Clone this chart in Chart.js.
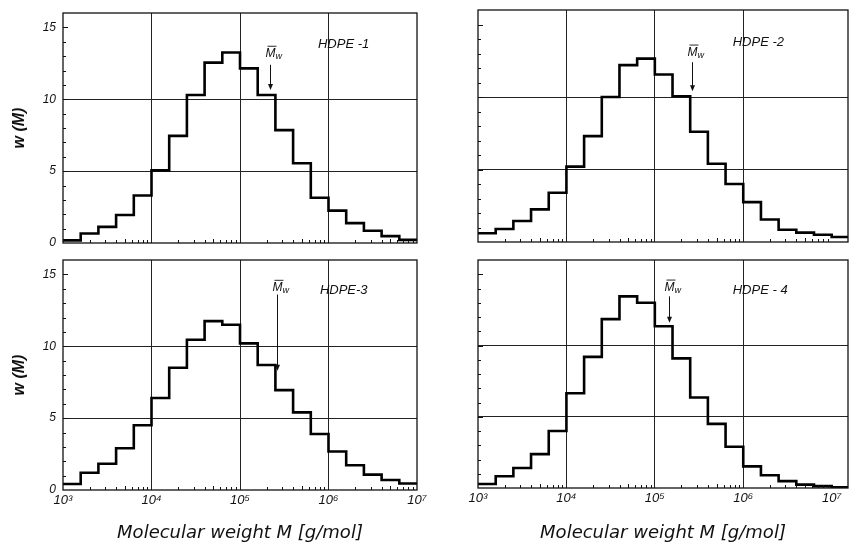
<!DOCTYPE html>
<html>
<head>
<meta charset="utf-8">
<script src="https://cdn.jsdelivr.net/npm/chart.js@4.4.1/dist/chart.umd.min.js"></script>
<style>
  html, body { margin: 0; padding: 0; background: #fff; }
  body { width: 851px; height: 552px; position: relative; overflow: hidden; }
  canvas { position: absolute; }
</style>
</head>
<body>
<canvas id="p1" width="440" height="250" style="left:0;top:0;width:440px;height:250px"></canvas>
<canvas id="p2" width="431" height="250" style="left:420px;top:0;width:431px;height:250px"></canvas>
<canvas id="p3" width="440" height="302" style="left:0;top:250px;width:440px;height:302px"></canvas>
<canvas id="p4" width="431" height="302" style="left:420px;top:250px;width:431px;height:302px"></canvas>
<script>
// bin edges of the histograms, M in g/mol (5 bins per decade)
const binEdges = [1000, 1585, 2512, 3981, 6310, 10000, 15849, 25119, 39811, 63096,
  100000, 158489, 251189, 398107, 630957, 1000000, 1584893, 2511886, 3981072, 6309573,
  10000000, 15848932];

// w(M) per bin
const wHDPE1 = [0.18, 0.66, 1.12, 1.95, 3.3, 5.05, 7.45, 10.3, 12.55, 13.25, 12.15, 10.3, 7.85, 5.55, 3.15, 2.25, 1.38, 0.85, 0.48, 0.22];
const wHDPE2 = [0.6, 0.9, 1.45, 2.25, 3.4, 5.2, 7.3, 10.0, 12.2, 12.65, 11.55, 10.05, 7.6, 5.4, 4.0, 2.75, 1.55, 0.85, 0.65, 0.5, 0.35];
const wHDPE3 = [0.42, 1.2, 1.83, 2.9, 4.5, 6.4, 8.5, 10.45, 11.75, 11.5, 10.2, 8.7, 6.95, 5.4, 3.9, 2.68, 1.72, 1.07, 0.7, 0.45];
const wHDPE4 = [0.28, 0.82, 1.4, 2.38, 4.0, 6.65, 9.2, 11.85, 13.45, 13.0, 11.35, 9.1, 6.35, 4.5, 2.9, 1.52, 0.9, 0.48, 0.24, 0.13, 0.05];

// weight-average molecular weights marked with arrows
const mwHDPE = [220000, 260000, 260000, 145000];

// axis ticks
const xTicks = [1e3, 1e4, 1e5, 1e6, 1e7];
const xGrid = [1e4, 1e5, 1e6];
const decades = [1e3, 1e4, 1e5, 1e6, 1e7];
const minorSteps = [2, 3, 4, 5, 6, 7, 8, 9];
const yTicks = [0, 5, 10, 15];
const yGrid = [5, 10];

const ink = '#111';
const sup = { 3: '\u00b3', 4: '\u2074', 5: '\u2075', 6: '\u2076', 7: '\u2077' };

const decor = {
  id: 'decor',
  afterDatasetsDraw(chart, args, o) {
    const { ctx, chartArea: a, scales: { x, y } } = chart;
    ctx.save();
    ctx.strokeStyle = ink;
    ctx.fillStyle = ink;

    // minor ticks, pointing inwards
    ctx.lineWidth = 1;
    ctx.beginPath();
    decades.forEach(d => minorSteps.forEach(m => {
      const v = d * m;
      if (v >= x.max) return;
      const px = Math.round(x.getPixelForValue(v)) + 0.5;
      ctx.moveTo(px, a.bottom);
      ctx.lineTo(px, a.bottom - (m === 5 ? 4 : 3));
    }));
    for (let v = 1; v < 16; v++) {
      const py = Math.round(y.getPixelForValue(v)) + 0.5;
      ctx.moveTo(a.left, py);
      ctx.lineTo(a.left + (v % 5 === 0 ? 5 : 3), py);
    }
    ctx.stroke();

    // frame
    ctx.lineWidth = 1.3;
    ctx.strokeRect(a.left, a.top, a.right - a.left, a.bottom - a.top);

    // sample name
    ctx.font = 'italic 13px "Liberation Sans", sans-serif';
    ctx.textBaseline = 'middle';
    ctx.textAlign = 'left';
    ctx.fillText(o.name, x.getPixelForValue(o.nameX), y.getPixelForValue(o.nameY));

    // Mw arrow
    const ax = Math.round(x.getPixelForValue(o.mw)) + 0.5;
    const top = y.getPixelForValue(o.arrowTop);
    const tip = y.getPixelForValue(o.arrowTip);
    ctx.lineWidth = 1;
    ctx.beginPath();
    ctx.moveTo(ax, top);
    ctx.lineTo(ax, tip - 4);
    ctx.stroke();
    ctx.beginPath();
    ctx.moveTo(ax - 2.5, tip - 6);
    ctx.lineTo(ax + 2.5, tip - 6);
    ctx.lineTo(ax, tip);
    ctx.closePath();
    ctx.fill();

    const ty = y.getPixelForValue(o.mwTextY);
    ctx.font = 'italic 12px "Liberation Sans", sans-serif';
    ctx.textBaseline = 'alphabetic';
    const mx = ax - 5;
    ctx.fillText('M', mx, ty + 4);
    const mwid = ctx.measureText('M').width;
    ctx.lineWidth = 0.9;
    ctx.beginPath();
    ctx.moveTo(mx + 2, ty - 7);
    ctx.lineTo(mx + mwid + 1, ty - 7);
    ctx.stroke();
    ctx.font = 'italic 9px "Liberation Sans", sans-serif';
    ctx.fillText('w', mx + mwid, ty + 6);
    ctx.restore();
  }
};

function steps(values) {
  const pts = values.map((v, i) => ({ x: binEdges[i], y: v }));
  pts.push({ x: binEdges[values.length], y: values[values.length - 1] });
  return pts;
}

function makePanel(id, values, cfg) {
  new Chart(document.getElementById(id), {
    type: 'line',
    data: {
      datasets: [{
        data: steps(values),
        stepped: true,
        borderColor: '#000',
        borderWidth: 2.6,
        pointRadius: 0,
        fill: false
      }]
    },
    options: {
      responsive: false,
      animation: false,
      events: [],
      layout: { padding: cfg.padding },
      plugins: {
        legend: { display: false },
        tooltip: { enabled: false },
        decor: cfg.decor
      },
      scales: {
        x: {
          type: 'logarithmic',
          min: 1000,
          max: cfg.xMax,
          afterBuildTicks: s => { s.ticks = xTicks.filter(v => v <= cfg.xMax).map(v => ({ value: v })); },
          afterFit: s => { s.height = cfg.xHeight; s.paddingLeft = 0; s.paddingRight = 0; },
          border: { display: false },
          grid: {
            drawTicks: false,
            lineWidth: 1,
            color: c => (c.tick && xGrid.includes(c.tick.value)) ? '#222' : 'rgba(0,0,0,0)'
          },
          ticks: {
            display: cfg.bottom,
            autoSkip: false,
            maxRotation: 0,
            padding: 3,
            color: ink,
            font: { family: 'Liberation Sans', style: 'italic', size: 13 },
            callback: v => '10' + sup[Math.round(Math.log10(v))]
          },
          title: {
            display: cfg.bottom,
            text: 'Molecular weight M [g/mol]',
            color: ink,
            font: { family: 'DejaVu Sans', style: 'italic', size: 18 },
            padding: { top: 4, bottom: 8 }
          }
        },
        y: {
          type: 'linear',
          min: 0,
          max: 16,
          afterBuildTicks: s => { s.ticks = yTicks.map(v => ({ value: v })); },
          afterFit: s => { s.width = cfg.yWidth; s.paddingTop = 0; s.paddingBottom = 0; },
          border: { display: false },
          grid: {
            drawTicks: false,
            lineWidth: 1,
            color: c => (c.tick && yGrid.includes(c.tick.value)) ? '#222' : 'rgba(0,0,0,0)'
          },
          ticks: {
            display: cfg.left,
            padding: 7,
            color: ink,
            font: { family: 'Liberation Sans', style: 'italic', size: 12 }
          },
          title: {
            display: cfg.left,
            text: 'w (M)',
            color: ink,
            font: { family: 'Liberation Sans', style: 'italic', weight: 'bold', size: 16 },
            padding: { top: 10, bottom: 0 }
          }
        }
      }
    },
    plugins: [decor]
  });
}

makePanel('p1', wHDPE1, {
  padding: { top: 13, right: 23, left: 0, bottom: 0 },
  xMax: 1e7, xHeight: 7, yWidth: 63, left: true, bottom: false,
  decor: { name: 'HDPE -1', nameX: 760000, nameY: 13.8, mw: mwHDPE[0], arrowTop: 12.4, arrowTip: 10.65, mwTextY: 13.2 }
});
makePanel('p2', wHDPE2, {
  padding: { top: 10, right: 3, left: 0, bottom: 0 },
  xMax: 1.53e7, xHeight: 8, yWidth: 58, left: false, bottom: false,
  decor: { name: 'HDPE -2', nameX: 760000, nameY: 13.8, mw: mwHDPE[1], arrowTop: 12.4, arrowTip: 10.4, mwTextY: 13.1 }
});
makePanel('p3', wHDPE3, {
  padding: { top: 10, right: 23, left: 0, bottom: 0 },
  xMax: 1e7, xHeight: 62, yWidth: 63, left: true, bottom: true,
  decor: { name: 'HDPE-3', nameX: 800000, nameY: 13.9, mw: mwHDPE[2], arrowTop: 13.6, arrowTip: 8.3, mwTextY: 14.1 }
});
makePanel('p4', wHDPE4, {
  padding: { top: 10, right: 3, left: 0, bottom: 0 },
  xMax: 1.53e7, xHeight: 64, yWidth: 58, left: false, bottom: true,
  decor: { name: 'HDPE - 4', nameX: 760000, nameY: 13.9, mw: mwHDPE[3], arrowTop: 13.45, arrowTip: 11.6, mwTextY: 14.1 }
});
</script>
</body>
</html>
